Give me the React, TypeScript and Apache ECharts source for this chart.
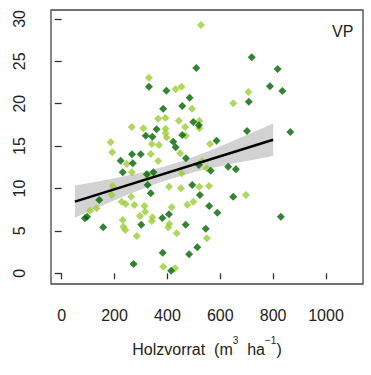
import { useEffect, useRef } from "react";
import * as echarts from "echarts";

const FONT = '"Liberation Sans", Arial, sans-serif';

const xTicks = [0, 200, 400, 600, 800, 1000];
const yTicks = [0, 5, 10, 15, 20, 25, 30];

const darkX = [719, 509, 817, 330, 396, 788, 835, 484, 708, 456, 384, 498, 519, 359, 701, 865, 318, 343, 456, 422, 431, 470, 586, 223, 231, 266, 299, 269, 322, 347, 325, 337, 494, 519, 564, 630, 659, 649, 829, 142, 96, 88, 157, 301, 381, 406, 469, 523, 558, 589, 545, 513, 382, 482, 272, 414];
const darkY = [25.47, 24.21, 24.09, 22.0, 21.53, 22.05, 21.5, 20.71, 20.24, 19.73, 19.41, 17.84, 17.45, 16.98, 16.78, 16.66, 16.23, 16.11, 16.31, 15.52, 14.86, 13.56, 15.64, 13.28, 11.91, 14.03, 14.03, 12.97, 11.67, 11.91, 10.41, 9.43, 10.41, 12.77, 12.1, 12.57, 12.26, 9.03, 6.67, 8.64, 6.67, 6.49, 5.42, 5.73, 6.52, 6.96, 5.73, 9.23, 7.94, 7.15, 5.26, 3.07, 2.43, 2.24, 1.1, 0.31];

const lightX = [527, 330, 453, 431, 706, 649, 493, 365, 392, 443, 521, 265, 309, 393, 467, 521, 393, 341, 397, 448, 561, 185, 191, 246, 265, 337, 365, 328, 406, 454, 451, 532, 549, 521, 557, 697, 193, 189, 107, 132, 227, 242, 263, 275, 313, 316, 296, 343, 341, 233, 241, 231, 284, 416, 407, 403, 435, 498, 475, 549, 384, 429, 368, 469];
const lightY = [29.28, 23.07, 22.0, 21.7, 21.38, 20.05, 19.41, 18.23, 18.31, 18.0, 18.0, 17.25, 17.1, 17.05, 17.25, 17.1, 16.51, 15.25, 16.01, 14.15, 15.25, 15.45, 14.27, 12.89, 11.91, 14.07, 13.24, 11.39, 10.21, 11.79, 10.02, 13.24, 12.38, 10.21, 10.29, 9.23, 10.29, 9.23, 7.38, 7.66, 8.44, 8.17, 9.03, 8.05, 7.94, 7.26, 6.76, 6.6, 6.17, 5.5, 5.11, 6.29, 4.4, 7.78, 5.81, 5.42, 4.72, 8.44, 8.09, 4.13, 0.78, 0.59, 15.13, 16.23];

const fitX = [50, 800];
const fitY = [8.45, 15.75];

const bandX = [50, 100, 150, 200, 250, 300, 350, 400, 450, 500, 550, 600, 650, 700, 750, 800];
const bandLower = [6.55, 7.25, 7.93, 8.61, 9.27, 9.89, 10.48, 11.01, 11.49, 11.91, 12.3, 12.63, 12.95, 13.24, 13.53, 13.82];
const bandUpper = [10.35, 10.63, 10.91, 11.21, 11.53, 11.87, 12.26, 12.71, 13.19, 13.75, 14.34, 14.97, 15.63, 16.3, 16.99, 17.68];

export default function App() {
  const ref = useRef<HTMLDivElement>(null);
  useEffect(() => {
    const chart = echarts.init(ref.current!, null, { renderer: "svg" });
    chart.setOption({
      animation: false,
      textStyle: { fontFamily: FONT },
      grid: {
        left: 51,
        top: 10,
        right: 8,
        bottom: 91,
        show: true,
        borderColor: "#444",
        borderWidth: 1.3,
      },
      xAxis: {
        type: "value",
        min: -40.5,
        max: 1140,
        offset: 3,
        axisLine: { show: false },
        axisTick: { show: true, length: 6, customValues: xTicks, lineStyle: { color: "#333", width: 1.3 } },
        axisLabel: {
          customValues: xTicks,
          margin: 20,
          fontSize: 16,
          color: "#222",
          fontFamily: FONT,
          formatter: (v: number) => String(v),
        },
        splitLine: { show: false },
        name: "{a|Holzvorrat  (m}{s|3}{a|  ha}{s|−1}{a|)}",
        nameLocation: "middle",
        nameGap: 48,
        nameTextStyle: {
          fontFamily: FONT,
          color: "#222",
          rich: {
            a: { fontSize: 16, lineHeight: 28, fontFamily: FONT, color: "#222" },
            s: { fontSize: 10, verticalAlign: "top", fontFamily: FONT, color: "#222" },
          },
        },
      },
      yAxis: {
        type: "value",
        min: -1.26,
        max: 31.05,
        offset: 4,
        axisLine: { show: false },
        axisTick: { show: true, length: 7, customValues: yTicks, lineStyle: { color: "#333", width: 1.3 } },
        axisLabel: {
          customValues: yTicks,
          rotate: 90,
          margin: 20,
          fontSize: 16,
          color: "#222",
          fontFamily: FONT,
          formatter: (v: number) => String(v),
        },
        splitLine: { show: false },
      },
      graphic: [
        {
          type: "text",
          left: 332,
          top: 23,
          style: { text: "VP", fontSize: 16, fill: "#222", fontFamily: FONT },
        },
      ],
      series: [
        {
          type: "custom",
          coordinateSystem: "cartesian2d",
          z: 1,
          silent: true,
          data: [[bandX[0], bandLower[0]]],
          renderItem: (_params: any, api: any) => {
            const pts: number[][] = [];
            for (let i = 0; i < bandX.length; i++) pts.push(api.coord([bandX[i], bandUpper[i]]));
            for (let i = bandX.length - 1; i >= 0; i--) pts.push(api.coord([bandX[i], bandLower[i]]));
            return { type: "polygon", shape: { points: pts }, style: { fill: "#d2d2d2" } };
          },
        },
        {
          type: "scatter",
          z: 2,
          symbol: "diamond",
          symbolSize: 8,
          itemStyle: { color: "#9acd32" },
          data: lightX.map((x, i) => [x, lightY[i]]),
        },
        {
          type: "scatter",
          z: 3,
          symbol: "diamond",
          symbolSize: 8,
          itemStyle: { color: "#006400" },
          data: darkX.map((x, i) => [x, darkY[i]]),
        },
        {
          type: "line",
          z: 4,
          showSymbol: false,
          lineStyle: { color: "#000", width: 2.5 },
          data: fitX.map((x, i) => [x, fitY[i]]),
        },
      ],
    });
    return () => chart.dispose();
  }, []);
  return <div ref={ref} style={{ position: "absolute", left: 0, top: 0, width: 371, height: 375 }} />;
}
